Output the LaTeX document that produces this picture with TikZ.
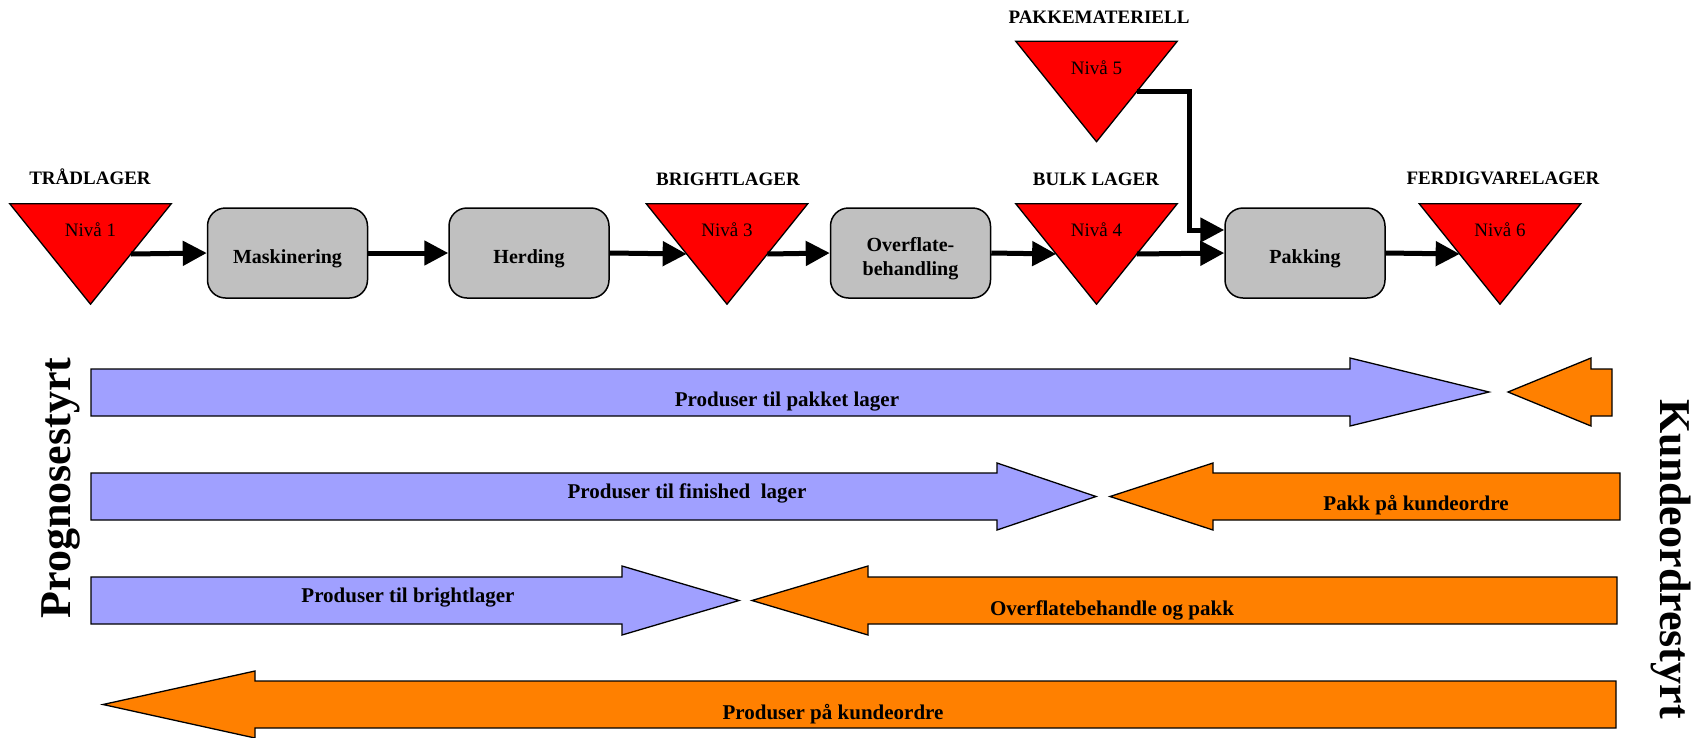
\documentclass[tikz,border=0pt]{standalone}
\usepackage{fontspec}
\setmainfont{Liberation Serif}
\usetikzlibrary{arrows.meta,calc}

\definecolor{nivared}{HTML}{FF0000}
\definecolor{procgray}{HTML}{C0C0C0}
\definecolor{pushblue}{HTML}{A0A0FF}
\definecolor{pullorange}{HTML}{FF8000}

\begin{document}
\begin{tikzpicture}[x=1pt,y=-1pt,
  stockpt/.style={inner sep=0pt, minimum width=161pt, minimum height=100pt},
  stocktri/.style={draw=black, line width=1.3pt, fill=nivared, line join=miter},
  level/.style={font=\fontsize{19}{22}\selectfont},
  store/.style={font=\bfseries\fontsize{19}{22}\selectfont},
  ptext/.style={align=center, inner sep=0pt, font=\bfseries\fontsize{20}{24}\selectfont},
  process/.style={draw=black, line width=1.5pt, fill=procgray, rounded corners=18pt,
    minimum width=160pt, minimum height=90pt, inner sep=0pt,
    label={[ptext,yshift=-6pt]center:#1}},
  flow/.style={line width=5pt, -{Triangle[length=24pt,width=24pt]}, line join=miter},
  push/.style={draw=black, line width=1.3pt, fill=pushblue, line join=miter},
  pull/.style={draw=black, line width=1.3pt, fill=pullorange, line join=miter},
  band/.style={font=\bfseries\fontsize{21}{24}\selectfont},
  side/.style={font=\bfseries\fontsize{44}{50}\selectfont, anchor=base}
]
\fill[white] (0,0) rectangle (1703,737);
\useasboundingbox (0,0) rectangle (1703,737);

% stock points (inverted triangles)
\node[stockpt] (t1) at (90.5,254) {};
\node[stockpt] (t3) at (727,254) {};
\node[stockpt] (t4) at (1096.5,254) {};
\node[stockpt] (t5) at (1096.5,91.5) {};
\node[stockpt] (t6) at (1500,254) {};
\foreach \t in {t1,t3,t4,t5,t6}{
  \draw[stocktri] (\t.north west) -- (\t.north east) -- (\t.south) -- cycle;
  \coordinate (\t l) at ($(\t.north west)!.5!(\t.south)$);
  \coordinate (\t r) at ($(\t.north east)!.5!(\t.south)$);
}
\node[level] at ($(t1.center)+(0,-24)$) {Nivå 1};
\node[level] at ($(t3.center)+(0,-24)$) {Nivå 3};
\node[level] at ($(t4.center)+(0,-24)$) {Nivå 4};
\node[level] at ($(t5.center)+(0,-24)$) {Nivå 5};
\node[level] at ($(t6.center)+(0,-24)$) {Nivå 6};

\node[store] at (90,177) {TRÅDLAGER};
\node[store] at (728,179) {BRIGHTLAGER};
\node[store] at (1096,179) {BULK LAGER};
\node[store] at (1099,17) {PAKKEMATERIELL};
\node[store] at (1503,178) {FERDIGVARELAGER};

% process steps
\node[process=Maskinering] (mask) at (287.5,253) {};
\node[process=Herding] (herd) at (529,253) {};
\node[process={Overflate-\\behandling}] (over) at (910.5,253) {};
\node[process=Pakking] (pakk) at (1305,253) {};

% material flow
\draw[flow] (t1r) -- (mask.west);
\draw[flow] (mask.east) -- (herd.west);
\draw[flow] (herd.east) -- (t3l);
\draw[flow] (t3r) -- (over.west);
\draw[flow] (over.east) -- (t4l);
\draw[flow] (t4r) -- (pakk.west);
\coordinate (pkin) at ($(pakk.west)+(0,-23)$);
\draw[flow] (t5r) -| ($(pkin)+(-35,0)$) -- (pkin);
\draw[flow] (pakk.east) -- (t6l);

% forecast-driven / order-driven bands
\draw[push] (91,369) -- (1350,369) -- (1350,358) -- (1489,392) -- (1350,426) -- (1350,416) -- (91,416) -- cycle;
\draw[pull] (1612,369) -- (1591,369) -- (1591,358) -- (1508,392) -- (1591,426) -- (1591,416) -- (1612,416) -- cycle;
\node[band] (b1) at (787,402) {Produser til pakket lager};

\draw[push] (91,473) -- (997,473) -- (997,463) -- (1096,496.5) -- (997,530) -- (997,520) -- (91,520) -- cycle;
\draw[pull] (1620,473) -- (1213,473) -- (1213,463) -- (1110,496.5) -- (1213,530) -- (1213,520) -- (1620,520) -- cycle;
\node[band] (b2) at (687,493) {Produser til finished\ \ lager};
\node[band] (b3) at (1416,505) {Pakk på kundeordre};

\draw[push] (91,577) -- (622,577) -- (622,566) -- (739,600.5) -- (622,635) -- (622,624) -- (91,624) -- cycle;
\draw[pull] (1617,577) -- (868,577) -- (868,566) -- (752,600.5) -- (868,635) -- (868,624) -- (1617,624) -- cycle;
\node[band] (b4) at (408,598) {Produser til brightlager};
\node[band] (b5) at (1112,610) {Overflatebehandle og pakk};

\draw[pull] (1616,681) -- (255,681) -- (255,671) -- (103,704.5) -- (255,738) -- (255,728) -- (1616,728) -- cycle;
\node[band] (b6) at (833,714) {Produser på kundeordre};

% axis captions
\node[side, rotate=90] (prog) at (70,488) {Prognosestyrt};
\node[side, rotate=-90] (kunde) at (1660,559) {Kundeordrestyrt};
\end{tikzpicture}
\end{document}
